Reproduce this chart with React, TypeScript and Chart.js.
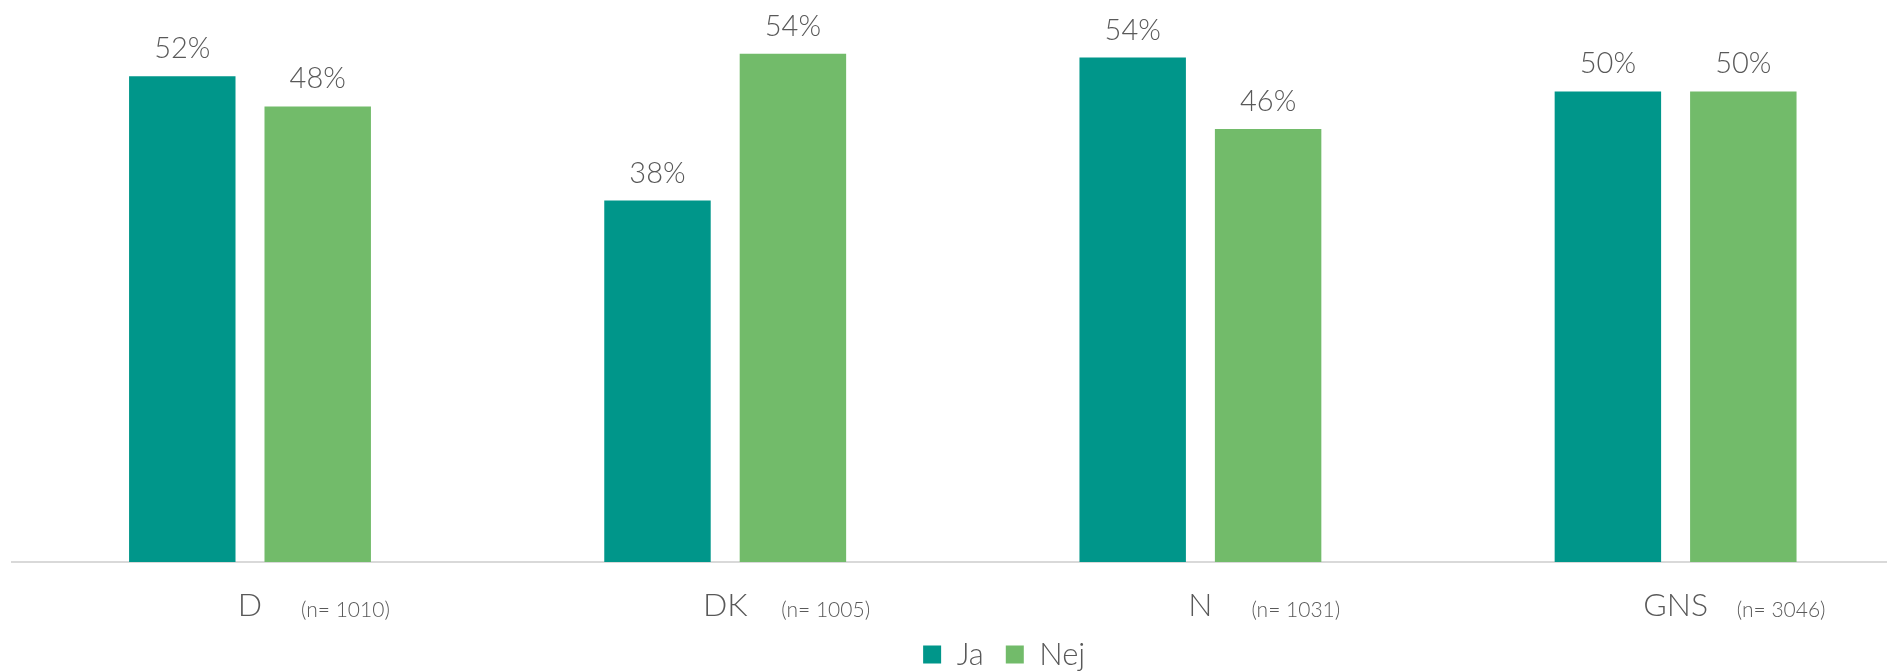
import React, { useEffect, useRef } from "react";
import { Chart, registerables } from "chart.js";

Chart.register(...registerables);

const categories = ["D", "DK", "N", "GNS"];
const sampleSizes = ["(n= 1010)", "(n= 1005)", "(n= 1031)", "(n= 3046)"];
const seriesNames = ["Ja", "Nej"];
const jaValues = [51.6, 38.4, 53.6, 50.0];
const nejValues = [48.4, 54.0, 46.0, 50.0];
const seriesColors = ["#00968A", "#72BB6A"];
const yMax = 58;

const FONT = "Lato, 'Open Sans', sans-serif";
const TEXT = "#595959";
const TICK_SIZE = 32;

const CANVAS_W = 1996;
const CANVAS_H = 680;

const labelsPlugin = {
  id: "barLabels",
  afterDatasetsDraw(chart: any) {
    const ctx = chart.ctx;
    ctx.save();
    ctx.font = `300 29px ${FONT}`;
    ctx.fillStyle = TEXT;
    ctx.textAlign = "center";
    ctx.textBaseline = "alphabetic";
    chart.data.datasets.forEach((ds: any, i: number) => {
      const meta = chart.getDatasetMeta(i);
      meta.data.forEach((el: any, j: number) => {
        const v = ds.data[j] as number;
        ctx.fillText(Math.round(v) + "%", el.x, el.y - 18);
      });
    });
    const xs = chart.scales.x;
    sampleSizes.forEach((t, j) => {
      ctx.font = `300 ${TICK_SIZE}px ${FONT}`;
      const half = ctx.measureText(categories[j]).width / 2;
      ctx.font = `300 21px ${FONT}`;
      ctx.textAlign = "left";
      ctx.textBaseline = "middle";
      ctx.fillText(t, xs.getPixelForValue(j) + half * 0.5 + 45, xs.top + 48);
    });
    ctx.restore();
  },
};

export default function App() {
  const ref = useRef<HTMLCanvasElement | null>(null);

  useEffect(() => {
    if (!ref.current) return;
    const chart = new Chart(ref.current, {
      type: "bar",
      data: {
        labels: categories,
        datasets: [
          {
            label: seriesNames[0],
            data: jaValues,
            backgroundColor: seriesColors[0],
            categoryPercentage: 0.57,
            barPercentage: 0.786,
          },
          {
            label: seriesNames[1],
            data: nejValues,
            backgroundColor: seriesColors[1],
            categoryPercentage: 0.57,
            barPercentage: 0.786,
          },
        ],
      },
      plugins: [labelsPlugin],
      options: {
        responsive: false,
        animation: false,
        devicePixelRatio: 1,
        layout: { padding: { left: 12.4, right: 0, top: 16.1, bottom: 0 } },
        plugins: {
          tooltip: { enabled: false },
          legend: {
            position: "bottom",
            labels: {
              boxWidth: 18,
              boxHeight: 18,
              padding: 22,
              color: TEXT,
              font: { family: FONT, size: 31, weight: "300" as any },
            },
          },
        },
        scales: {
          x: {
            grid: { display: false, drawTicks: false },
            border: { display: true, color: "#D9D9D9", width: 2 },
            ticks: {
              color: TEXT,
              padding: 24,
              font: { family: FONT, size: TICK_SIZE, weight: "300" as any },
            },
            afterFit: (s: any) => {
              s.height = 55;
            },
          },
          y: {
            position: "right",
            min: 0,
            max: yMax,
            grid: { display: false, drawTicks: false },
            border: { display: false },
            ticks: { display: false },
            afterFit: (s: any) => {
              s.width = 82.8;
            },
          },
        },
      },
    });
    return () => chart.destroy();
  }, []);

  return (
    <div
      style={{
        position: "fixed",
        left: 0,
        top: 0,
        width: 1887,
        height: 671,
        overflow: "hidden",
        background: "#fff",
      }}
    >
      <canvas
        ref={ref}
        width={CANVAS_W}
        height={CANVAS_H}
        style={{ position: "absolute", left: 0, top: 0, width: CANVAS_W, height: CANVAS_H }}
      />
    </div>
  );
}
